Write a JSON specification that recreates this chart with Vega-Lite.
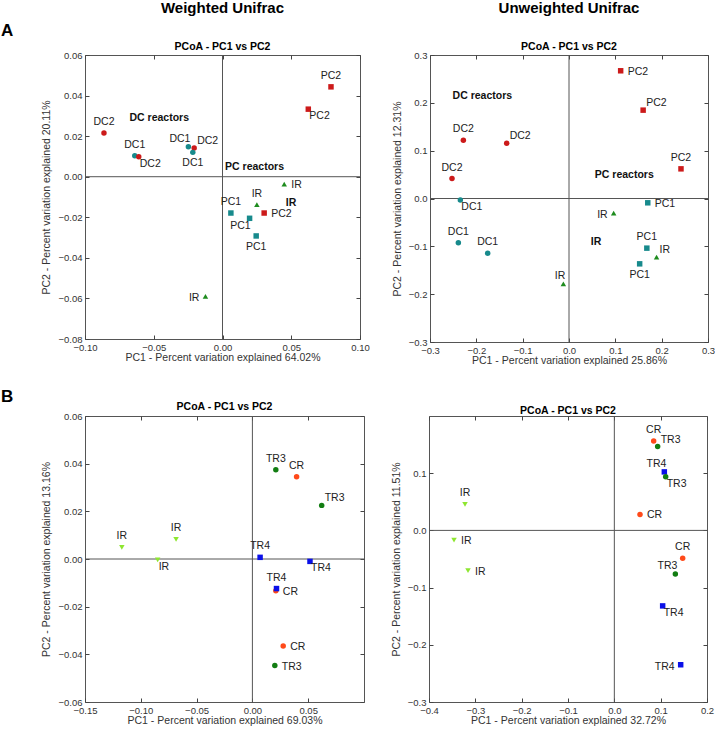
{
  "$schema": "https://vega.github.io/schema/vega-lite/v6.json",
  "padding": {"top": 0, "left": 0, "right": 2, "bottom": 2},
  "background": "white",
  "config": {
    "font": "Liberation Sans",
    "view": {"stroke": "#555", "strokeWidth": 1},
    "axis": {"grid": false, "domain": false, "tickSize": 4, "offset": -4, "tickColor": "#444", "labelFontSize": 9.5, "labelColor": "#333", "labelPadding": 3, "labelFlush": false, "titleFontSize": 10.5, "titleFontWeight": "normal", "titleColor": "#333", "titlePadding": 6},
    "axisX": {"titlePadding": 1},
    "title": {"fontSize": 15, "fontWeight": "bold", "color": "#000", "subtitleFontSize": 10.5, "subtitleFontWeight": "bold", "subtitleColor": "#000", "subtitlePadding": 26, "offset": -2, "anchor": "middle", "frame": "group"},
    "point": {"filled": true, "opacity": 1, "size": 30},
    "text": {"fontSize": 10.5, "color": "#222", "baseline": "middle"}
  },
  "vconcat": [
    {
      "title": {"text": "A", "orient": "left", "angle": 0, "anchor": "end", "fontSize": 17, "offset": 16, "dy": -32},
      "spacing": 21,
      "hconcat": [
        {
          "width": 275, "height": 284,
          "title": {"text": "Weighted Unifrac", "subtitle": "PCoA - PC1 vs PC2"},
          "data": {"values": [
            {"x": -0.0862, "y": 0.0216, "kind": "DC2", "label": "DC2", "pos": "top"},
            {"x": -0.0638, "y": 0.0103, "kind": "DC1", "label": "DC1", "pos": "top"},
            {"x": -0.0609, "y": 0.0098, "kind": "DC2", "label": "DC2", "pos": "bottomright"},
            {"x": -0.0248, "y": 0.0148, "kind": "DC1", "label": "DC1", "pos": "topleft"},
            {"x": -0.0206, "y": 0.0141, "kind": "DC2", "label": "DC2", "pos": "topright"},
            {"x": -0.0216, "y": 0.0120, "kind": "DC1", "label": "DC1", "pos": "bottom"},
            {"x": 0.0789, "y": 0.0443, "kind": "PC2", "label": "PC2", "pos": "top"},
            {"x": 0.0624, "y": 0.0333, "kind": "PC2", "label": "PC2", "pos": "bottomright"},
            {"x": 0.0449, "y": -0.0036, "kind": "IRa", "label": "IR", "pos": "right"},
            {"x": 0.0250, "y": -0.0138, "kind": "IRa", "label": "IR", "pos": "top"},
            {"x": 0.0303, "y": -0.0179, "kind": "PC2", "label": "PC2", "pos": "right"},
            {"x": 0.0061, "y": -0.0179, "kind": "PC1", "label": "PC1", "pos": "top"},
            {"x": 0.0197, "y": -0.0205, "kind": "PC1", "label": "PC1", "pos": "bottomleft"},
            {"x": 0.0245, "y": -0.0292, "kind": "PC1", "label": "PC1", "pos": "bottom"},
            {"x": -0.0124, "y": -0.0590, "kind": "IRa", "label": "IR", "pos": "left"}
          ]},
          "layer": [
            {"data": {"values": [{"v": 0}]}, "mark": {"type": "rule", "color": "#555"}, "encoding": {"x": {"field": "v", "type": "quantitative", "axis": {"orient": "top", "labels": false, "title": null, "values": [-0.1, -0.05, 0, 0.05, 0.1]}}}},
            {"data": {"values": [{"v": 0}]}, "mark": {"type": "rule", "color": "#555"}, "encoding": {"y": {"field": "v", "type": "quantitative", "axis": {"orient": "right", "labels": false, "title": null, "values": [-0.08, -0.06, -0.04, -0.02, 0, 0.02, 0.04, 0.06]}}}},
            {"mark": {"type": "point"}, "encoding": {
              "x": {"field": "x", "type": "quantitative", "scale": {"domain": [-0.1, 0.1], "nice": false, "zero": false}, "axis": {"orient": "bottom", "title": "PC1 - Percent variation explained 64.02%", "values": [-0.1, -0.05, 0, 0.05, 0.1], "format": ".2f"}},
              "y": {"field": "y", "type": "quantitative", "scale": {"domain": [-0.08, 0.06], "nice": false, "zero": false}, "axis": {"orient": "left", "title": "PC2 - Percent variation explained 20.11%", "values": [-0.08, -0.06, -0.04, -0.02, 0, 0.02, 0.04, 0.06], "format": ".2f"}},
              "color": {"field": "kind", "type": "nominal", "legend": null, "scale": {"domain": ["DC1", "DC2", "PC1", "PC2", "IRa", "TR3", "TR4", "CR", "IRb"], "range": ["#178a8c", "#cc1a1a", "#178a8c", "#cc1a1a", "#1e8c1e", "#127d12", "#0a10e8", "#ff4a1a", "#8ee630"]}},
              "shape": {"field": "kind", "type": "nominal", "legend": null, "scale": {"domain": ["DC1", "DC2", "PC1", "PC2", "IRa", "TR3", "TR4", "CR", "IRb"], "range": ["circle", "circle", "square", "square", "triangle-up", "circle", "square", "circle", "triangle-down"]}}
            }},
            {"transform": [{"filter": "datum.pos === 'top'"}], "mark": {"type": "text", "align": "center", "dy": -11}, "encoding": {"x": {"field": "x", "type": "quantitative", "axis": null}, "y": {"field": "y", "type": "quantitative", "axis": null}, "text": {"field": "label"}}},
            {"transform": [{"filter": "datum.pos === 'bottom'"}], "mark": {"type": "text", "align": "center", "dy": 11}, "encoding": {"x": {"field": "x", "type": "quantitative", "axis": null}, "y": {"field": "y", "type": "quantitative", "axis": null}, "text": {"field": "label"}}},
            {"transform": [{"filter": "datum.pos === 'right'"}], "mark": {"type": "text", "align": "left", "dx": 7, "dy": 1}, "encoding": {"x": {"field": "x", "type": "quantitative", "axis": null}, "y": {"field": "y", "type": "quantitative", "axis": null}, "text": {"field": "label"}}},
            {"transform": [{"filter": "datum.pos === 'left'"}], "mark": {"type": "text", "align": "right", "dx": -6, "dy": 2}, "encoding": {"x": {"field": "x", "type": "quantitative", "axis": null}, "y": {"field": "y", "type": "quantitative", "axis": null}, "text": {"field": "label"}}},
            {"transform": [{"filter": "datum.pos === 'topleft'"}], "mark": {"type": "text", "align": "right", "dx": 2, "dy": -8}, "encoding": {"x": {"field": "x", "type": "quantitative", "axis": null}, "y": {"field": "y", "type": "quantitative", "axis": null}, "text": {"field": "label"}}},
            {"transform": [{"filter": "datum.pos === 'topright'"}], "mark": {"type": "text", "align": "left", "dx": 3, "dy": -7}, "encoding": {"x": {"field": "x", "type": "quantitative", "axis": null}, "y": {"field": "y", "type": "quantitative", "axis": null}, "text": {"field": "label"}}},
            {"transform": [{"filter": "datum.pos === 'bottomright'"}], "mark": {"type": "text", "align": "left", "dx": 1, "dy": 7}, "encoding": {"x": {"field": "x", "type": "quantitative", "axis": null}, "y": {"field": "y", "type": "quantitative", "axis": null}, "text": {"field": "label"}}},
            {"transform": [{"filter": "datum.pos === 'bottomleft'"}], "mark": {"type": "text", "align": "right", "dx": 1, "dy": 8}, "encoding": {"x": {"field": "x", "type": "quantitative", "axis": null}, "y": {"field": "y", "type": "quantitative", "axis": null}, "text": {"field": "label"}}},
            {"data": {"values": [
              {"x": -0.046, "y": 0.0289, "text": "DC reactors"},
              {"x": 0.0233, "y": 0.0046, "text": "PC reactors"},
              {"x": 0.0498, "y": -0.0130, "text": "IR"}
            ]}, "mark": {"type": "text", "fontWeight": "bold", "color": "#111"}, "encoding": {"x": {"field": "x", "type": "quantitative", "axis": null}, "y": {"field": "y", "type": "quantitative", "axis": null}, "text": {"field": "text"}}}
          ]
        },
        {
          "width": 278, "height": 287,
          "title": {"text": "Unweighted Unifrac", "subtitle": "PCoA - PC1 vs PC2"},
          "data": {"values": [
            {"x": 0.1115, "y": 0.267, "kind": "PC2", "label": "PC2", "pos": "right"},
            {"x": 0.160, "y": 0.1847, "kind": "PC2", "label": "PC2", "pos": "topright"},
            {"x": 0.2417, "y": 0.062, "kind": "PC2", "label": "PC2", "pos": "top"},
            {"x": -0.228, "y": 0.122, "kind": "DC2", "label": "DC2", "pos": "top"},
            {"x": -0.1345, "y": 0.1157, "kind": "DC2", "label": "DC2", "pos": "topright"},
            {"x": -0.2525, "y": 0.0418, "kind": "DC2", "label": "DC2", "pos": "top"},
            {"x": -0.2345, "y": -0.003, "kind": "DC1", "label": "DC1", "pos": "bottomright"},
            {"x": -0.2388, "y": -0.0927, "kind": "DC1", "label": "DC1", "pos": "top"},
            {"x": -0.1755, "y": -0.1143, "kind": "DC1", "label": "DC1", "pos": "top"},
            {"x": -0.0122, "y": -0.1784, "kind": "IRa", "label": "IR", "pos": "topleft"},
            {"x": 0.0964, "y": -0.0307, "kind": "IRa", "label": "IR", "pos": "left"},
            {"x": 0.170, "y": -0.009, "kind": "PC1", "label": "PC1", "pos": "right"},
            {"x": 0.168, "y": -0.1038, "kind": "PC1", "label": "PC1", "pos": "top"},
            {"x": 0.189, "y": -0.1226, "kind": "IRa", "label": "IR", "pos": "topright"},
            {"x": 0.1525, "y": -0.1366, "kind": "PC1", "label": "PC1", "pos": "bottom"}
          ]},
          "layer": [
            {"data": {"values": [{"v": 0}]}, "mark": {"type": "rule", "color": "#555"}, "encoding": {"x": {"field": "v", "type": "quantitative", "axis": {"orient": "top", "labels": false, "title": null, "values": [-0.3, -0.2, -0.1, 0, 0.1, 0.2, 0.3]}}}},
            {"data": {"values": [{"v": 0}]}, "mark": {"type": "rule", "color": "#555"}, "encoding": {"y": {"field": "v", "type": "quantitative", "axis": {"orient": "right", "labels": false, "title": null, "values": [-0.3, -0.2, -0.1, 0, 0.1, 0.2, 0.3]}}}},
            {"mark": {"type": "point"}, "encoding": {
              "x": {"field": "x", "type": "quantitative", "scale": {"domain": [-0.3, 0.3], "nice": false, "zero": false}, "axis": {"orient": "bottom", "title": "PC1 - Percent variation explained 25.86%", "values": [-0.3, -0.2, -0.1, 0, 0.1, 0.2, 0.3], "format": ".1f"}},
              "y": {"field": "y", "type": "quantitative", "scale": {"domain": [-0.3, 0.3], "nice": false, "zero": false}, "axis": {"orient": "left", "title": "PC2 - Percent variation explained 12.31%", "values": [-0.3, -0.2, -0.1, 0, 0.1, 0.2, 0.3], "format": ".1f"}},
              "color": {"field": "kind", "type": "nominal", "legend": null, "scale": {"domain": ["DC1", "DC2", "PC1", "PC2", "IRa", "TR3", "TR4", "CR", "IRb"], "range": ["#178a8c", "#cc1a1a", "#178a8c", "#cc1a1a", "#1e8c1e", "#127d12", "#0a10e8", "#ff4a1a", "#8ee630"]}},
              "shape": {"field": "kind", "type": "nominal", "legend": null, "scale": {"domain": ["DC1", "DC2", "PC1", "PC2", "IRa", "TR3", "TR4", "CR", "IRb"], "range": ["circle", "circle", "square", "square", "triangle-up", "circle", "square", "circle", "triangle-down"]}}
            }},
            {"transform": [{"filter": "datum.pos === 'top'"}], "mark": {"type": "text", "align": "center", "dy": -11}, "encoding": {"x": {"field": "x", "type": "quantitative", "axis": null}, "y": {"field": "y", "type": "quantitative", "axis": null}, "text": {"field": "label"}}},
            {"transform": [{"filter": "datum.pos === 'bottom'"}], "mark": {"type": "text", "align": "center", "dy": 11}, "encoding": {"x": {"field": "x", "type": "quantitative", "axis": null}, "y": {"field": "y", "type": "quantitative", "axis": null}, "text": {"field": "label"}}},
            {"transform": [{"filter": "datum.pos === 'right'"}], "mark": {"type": "text", "align": "left", "dx": 7, "dy": 1}, "encoding": {"x": {"field": "x", "type": "quantitative", "axis": null}, "y": {"field": "y", "type": "quantitative", "axis": null}, "text": {"field": "label"}}},
            {"transform": [{"filter": "datum.pos === 'left'"}], "mark": {"type": "text", "align": "right", "dx": -6, "dy": 2}, "encoding": {"x": {"field": "x", "type": "quantitative", "axis": null}, "y": {"field": "y", "type": "quantitative", "axis": null}, "text": {"field": "label"}}},
            {"transform": [{"filter": "datum.pos === 'topleft'"}], "mark": {"type": "text", "align": "right", "dx": 2, "dy": -8}, "encoding": {"x": {"field": "x", "type": "quantitative", "axis": null}, "y": {"field": "y", "type": "quantitative", "axis": null}, "text": {"field": "label"}}},
            {"transform": [{"filter": "datum.pos === 'topright'"}], "mark": {"type": "text", "align": "left", "dx": 3, "dy": -7}, "encoding": {"x": {"field": "x", "type": "quantitative", "axis": null}, "y": {"field": "y", "type": "quantitative", "axis": null}, "text": {"field": "label"}}},
            {"transform": [{"filter": "datum.pos === 'bottomright'"}], "mark": {"type": "text", "align": "left", "dx": 1, "dy": 7}, "encoding": {"x": {"field": "x", "type": "quantitative", "axis": null}, "y": {"field": "y", "type": "quantitative", "axis": null}, "text": {"field": "label"}}},
            {"data": {"values": [
              {"x": -0.1871, "y": 0.2139, "text": "DC reactors"},
              {"x": 0.1194, "y": 0.0495, "text": "PC reactors"},
              {"x": 0.0583, "y": -0.0899, "text": "IR"}
            ]}, "mark": {"type": "text", "fontWeight": "bold", "color": "#111"}, "encoding": {"x": {"field": "x", "type": "quantitative", "axis": null}, "y": {"field": "y", "type": "quantitative", "axis": null}, "text": {"field": "text"}}}
          ]
        }
      ]
    },
    {
      "title": {"text": "B", "orient": "left", "angle": 0, "anchor": "end", "fontSize": 17, "offset": 16, "dy": -27},
      "spacing": 25,
      "hconcat": [
        {
          "width": 279, "height": 286,
          "title": {"text": "PCoA - PC1 vs PC2", "fontSize": 10.5, "offset": -1},
          "data": {"values": [
            {"x": -0.117, "y": 0.0049, "kind": "IRb", "label": "IR", "pos": "top"},
            {"x": -0.0849, "y": -0.0004, "kind": "IRb", "label": "IR", "pos": "bottomright"},
            {"x": -0.0684, "y": 0.0082, "kind": "IRb", "label": "IR", "pos": "top"},
            {"x": 0.021, "y": 0.0374, "kind": "TR3", "label": "TR3", "pos": "top"},
            {"x": 0.0396, "y": 0.0345, "kind": "CR", "label": "CR", "pos": "top"},
            {"x": 0.0621, "y": 0.0225, "kind": "TR3", "label": "TR3", "pos": "topright"},
            {"x": 0.0069, "y": 0.0007, "kind": "TR4", "label": "TR4", "pos": "top"},
            {"x": 0.0516, "y": -0.001, "kind": "TR4", "label": "TR4", "pos": "bottomright"},
            {"x": 0.021, "y": -0.0133, "kind": "CR", "label": "CR", "pos": "right"},
            {"x": 0.0216, "y": -0.0124, "kind": "TR4", "label": "TR4", "pos": "top"},
            {"x": 0.0276, "y": -0.0365, "kind": "CR", "label": "CR", "pos": "right"},
            {"x": 0.0201, "y": -0.0447, "kind": "TR3", "label": "TR3", "pos": "right"}
          ]},
          "layer": [
            {"data": {"values": [{"v": 0}]}, "mark": {"type": "rule", "color": "#555"}, "encoding": {"x": {"field": "v", "type": "quantitative", "axis": {"orient": "top", "labels": false, "title": null, "values": [-0.15, -0.1, -0.05, 0, 0.05]}}}},
            {"data": {"values": [{"v": 0}]}, "mark": {"type": "rule", "color": "#555"}, "encoding": {"y": {"field": "v", "type": "quantitative", "axis": {"orient": "right", "labels": false, "title": null, "values": [-0.06, -0.04, -0.02, 0, 0.02, 0.04, 0.06]}}}},
            {"mark": {"type": "point"}, "encoding": {
              "x": {"field": "x", "type": "quantitative", "scale": {"domain": [-0.15, 0.1], "nice": false, "zero": false}, "axis": {"orient": "bottom", "title": "PC1 - Percent variation explained 69.03%", "values": [-0.15, -0.1, -0.05, 0, 0.05], "format": ".2f"}},
              "y": {"field": "y", "type": "quantitative", "scale": {"domain": [-0.06, 0.06], "nice": false, "zero": false}, "axis": {"orient": "left", "title": "PC2 - Percent variation explained 13.16%", "values": [-0.06, -0.04, -0.02, 0, 0.02, 0.04, 0.06], "format": ".2f"}},
              "color": {"field": "kind", "type": "nominal", "legend": null, "scale": {"domain": ["DC1", "DC2", "PC1", "PC2", "IRa", "TR3", "TR4", "CR", "IRb"], "range": ["#178a8c", "#cc1a1a", "#178a8c", "#cc1a1a", "#1e8c1e", "#127d12", "#0a10e8", "#ff4a1a", "#8ee630"]}},
              "shape": {"field": "kind", "type": "nominal", "legend": null, "scale": {"domain": ["DC1", "DC2", "PC1", "PC2", "IRa", "TR3", "TR4", "CR", "IRb"], "range": ["circle", "circle", "square", "square", "triangle-up", "circle", "square", "circle", "triangle-down"]}}
            }},
            {"transform": [{"filter": "datum.pos === 'top'"}], "mark": {"type": "text", "align": "center", "dy": -11}, "encoding": {"x": {"field": "x", "type": "quantitative", "axis": null}, "y": {"field": "y", "type": "quantitative", "axis": null}, "text": {"field": "label"}}},
            {"transform": [{"filter": "datum.pos === 'right'"}], "mark": {"type": "text", "align": "left", "dx": 7, "dy": 1}, "encoding": {"x": {"field": "x", "type": "quantitative", "axis": null}, "y": {"field": "y", "type": "quantitative", "axis": null}, "text": {"field": "label"}}},
            {"transform": [{"filter": "datum.pos === 'topright'"}], "mark": {"type": "text", "align": "left", "dx": 3, "dy": -7}, "encoding": {"x": {"field": "x", "type": "quantitative", "axis": null}, "y": {"field": "y", "type": "quantitative", "axis": null}, "text": {"field": "label"}}},
            {"transform": [{"filter": "datum.pos === 'bottomright'"}], "mark": {"type": "text", "align": "left", "dx": 1, "dy": 7}, "encoding": {"x": {"field": "x", "type": "quantitative", "axis": null}, "y": {"field": "y", "type": "quantitative", "axis": null}, "text": {"field": "label"}}}
          ]
        },
        {
          "width": 278, "height": 286,
          "title": {"text": "PCoA - PC1 vs PC2", "fontSize": 10.5, "offset": -1},
          "data": {"values": [
            {"x": 0.0849, "y": 0.1564, "kind": "CR", "label": "CR", "pos": "top"},
            {"x": 0.0935, "y": 0.1465, "kind": "TR3", "label": "TR3", "pos": "topright"},
            {"x": 0.1079, "y": 0.1023, "kind": "TR4", "label": "TR4", "pos": "topleft"},
            {"x": 0.1108, "y": 0.0936, "kind": "TR3", "label": "TR3", "pos": "bottomright"},
            {"x": 0.0554, "y": 0.0279, "kind": "CR", "label": "CR", "pos": "right"},
            {"x": 0.1475, "y": -0.0488, "kind": "CR", "label": "CR", "pos": "top"},
            {"x": 0.1317, "y": -0.0762, "kind": "TR3", "label": "TR3", "pos": "topleft"},
            {"x": 0.1043, "y": -0.132, "kind": "TR4", "label": "TR4", "pos": "bottomright"},
            {"x": 0.1432, "y": -0.2349, "kind": "TR4", "label": "TR4", "pos": "left"},
            {"x": -0.3223, "y": 0.0453, "kind": "IRb", "label": "IR", "pos": "top"},
            {"x": -0.346, "y": -0.0169, "kind": "IRb", "label": "IR", "pos": "right"},
            {"x": -0.3158, "y": -0.0703, "kind": "IRb", "label": "IR", "pos": "right"}
          ]},
          "layer": [
            {"data": {"values": [{"v": 0}]}, "mark": {"type": "rule", "color": "#555"}, "encoding": {"x": {"field": "v", "type": "quantitative", "axis": {"orient": "top", "labels": false, "title": null, "values": [-0.4, -0.3, -0.2, -0.1, 0, 0.1, 0.2]}}}},
            {"data": {"values": [{"v": 0}]}, "mark": {"type": "rule", "color": "#555"}, "encoding": {"y": {"field": "v", "type": "quantitative", "axis": {"orient": "right", "labels": false, "title": null, "values": [-0.3, -0.2, -0.1, 0, 0.1]}}}},
            {"mark": {"type": "point"}, "encoding": {
              "x": {"field": "x", "type": "quantitative", "scale": {"domain": [-0.4, 0.2], "nice": false, "zero": false}, "axis": {"orient": "bottom", "title": "PC1 - Percent variation explained 32.72%", "values": [-0.4, -0.3, -0.2, -0.1, 0, 0.1, 0.2], "format": ".1f"}},
              "y": {"field": "y", "type": "quantitative", "scale": {"domain": [-0.3, 0.2], "nice": false, "zero": false}, "axis": {"orient": "left", "title": "PC2 - Percent variation explained 11.51%", "values": [-0.3, -0.2, -0.1, 0, 0.1], "format": ".1f"}},
              "color": {"field": "kind", "type": "nominal", "legend": null, "scale": {"domain": ["DC1", "DC2", "PC1", "PC2", "IRa", "TR3", "TR4", "CR", "IRb"], "range": ["#178a8c", "#cc1a1a", "#178a8c", "#cc1a1a", "#1e8c1e", "#127d12", "#0a10e8", "#ff4a1a", "#8ee630"]}},
              "shape": {"field": "kind", "type": "nominal", "legend": null, "scale": {"domain": ["DC1", "DC2", "PC1", "PC2", "IRa", "TR3", "TR4", "CR", "IRb"], "range": ["circle", "circle", "square", "square", "triangle-up", "circle", "square", "circle", "triangle-down"]}}
            }},
            {"transform": [{"filter": "datum.pos === 'top'"}], "mark": {"type": "text", "align": "center", "dy": -11}, "encoding": {"x": {"field": "x", "type": "quantitative", "axis": null}, "y": {"field": "y", "type": "quantitative", "axis": null}, "text": {"field": "label"}}},
            {"transform": [{"filter": "datum.pos === 'right'"}], "mark": {"type": "text", "align": "left", "dx": 7, "dy": 1}, "encoding": {"x": {"field": "x", "type": "quantitative", "axis": null}, "y": {"field": "y", "type": "quantitative", "axis": null}, "text": {"field": "label"}}},
            {"transform": [{"filter": "datum.pos === 'left'"}], "mark": {"type": "text", "align": "right", "dx": -6, "dy": 2}, "encoding": {"x": {"field": "x", "type": "quantitative", "axis": null}, "y": {"field": "y", "type": "quantitative", "axis": null}, "text": {"field": "label"}}},
            {"transform": [{"filter": "datum.pos === 'topleft'"}], "mark": {"type": "text", "align": "right", "dx": 2, "dy": -8}, "encoding": {"x": {"field": "x", "type": "quantitative", "axis": null}, "y": {"field": "y", "type": "quantitative", "axis": null}, "text": {"field": "label"}}},
            {"transform": [{"filter": "datum.pos === 'topright'"}], "mark": {"type": "text", "align": "left", "dx": 3, "dy": -7}, "encoding": {"x": {"field": "x", "type": "quantitative", "axis": null}, "y": {"field": "y", "type": "quantitative", "axis": null}, "text": {"field": "label"}}},
            {"transform": [{"filter": "datum.pos === 'bottomright'"}], "mark": {"type": "text", "align": "left", "dx": 1, "dy": 7}, "encoding": {"x": {"field": "x", "type": "quantitative", "axis": null}, "y": {"field": "y", "type": "quantitative", "axis": null}, "text": {"field": "label"}}}
          ]
        }
      ]
    }
  ],
  "spacing": 21
}
